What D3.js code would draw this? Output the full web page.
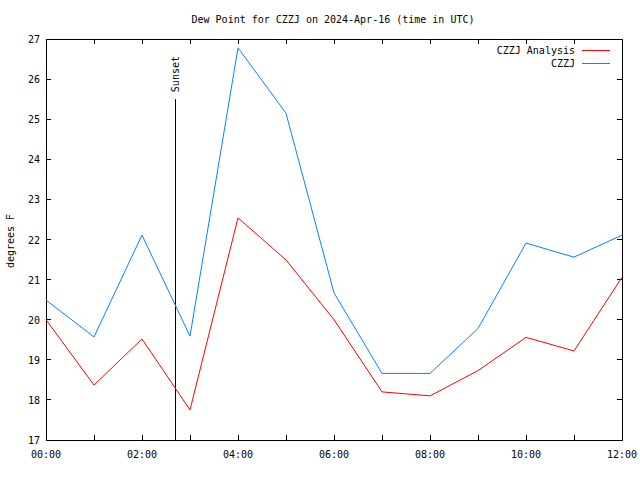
<!DOCTYPE html>
<html><head><meta charset="utf-8">
<script src="https://cdn.jsdelivr.net/npm/d3@7"></script>
<style>body{margin:0;background:#fff}svg{display:block}text{font-family:"DejaVu Sans Mono",monospace;font-size:10px;fill:#000}</style>
</head><body><svg id="c" width="640" height="480"></svg>
<script>
const hours = [0,1,2,3,4,5,6,7,8,9,10,11,12];
const analysis = [20.0,18.37,19.52,17.75,22.54,21.49,20.0,18.2,18.1,18.73,19.56,19.22,21.06];
const observed = [20.49,19.57,22.11,19.59,26.78,25.15,20.67,18.66,18.66,19.78,21.91,21.56,22.11];
const seriesNames = ["CZZJ Analysis","CZZJ"];
const seriesColors = ["#ff0000","#0a80ff"];
const yTicks = [17,18,19,20,21,22,23,24,25,26,27];
const xTickHours = [0,2,4,6,8,10,12];
const sunsetHour = 2.69, sunsetTop = 25.5;
const title = "Dew Point for CZZJ on 2024-Apr-16 (time in UTC)";

const svg = d3.select("#c");
const L=46,R=622,T=39,B=440;
const x = d3.scaleLinear().domain([0,12]).range([L,R]);
const y = d3.scaleLinear().domain([17,27]).range([B,T]);
const fmt = h => String(h).padStart(2,"0")+":00";
const tl = 5;

// ticks
const g = svg.append("g").attr("stroke","#000").attr("stroke-width",1).attr("shape-rendering","crispEdges");
hours.forEach(h=>{
  g.append("line").attr("x1",x(h)).attr("x2",x(h)).attr("y1",B).attr("y2",B-tl);
  g.append("line").attr("x1",x(h)).attr("x2",x(h)).attr("y1",T).attr("y2",T+tl);
});
yTicks.forEach(v=>{
  g.append("line").attr("x1",L).attr("x2",L+tl).attr("y1",y(v)).attr("y2",y(v));
  g.append("line").attr("x1",R).attr("x2",R-tl).attr("y1",y(v)).attr("y2",y(v));
});
g.append("rect").attr("x",L).attr("y",T).attr("width",R-L).attr("height",B-T).attr("fill","none");

yTicks.forEach(v=>svg.append("text").attr("x",L-6).attr("y",y(v)+4).attr("text-anchor","end").text(v));
xTickHours.forEach(h=>svg.append("text").attr("x",x(h)).attr("y",B+18).attr("text-anchor","middle").text(fmt(h)));

svg.append("text").attr("x",333).attr("y",23).attr("text-anchor","middle").text(title);
svg.append("text").attr("transform","translate(14,241) rotate(-90)").attr("text-anchor","middle").text("degrees F");

// sunset
svg.append("line").attr("x1",Math.round(x(sunsetHour))+0.5).attr("x2",Math.round(x(sunsetHour))+0.5)
  .attr("y1",y(17)).attr("y2",y(sunsetTop)).attr("stroke","#000");
svg.append("text").attr("transform",`translate(${x(sunsetHour)+4},${y(sunsetTop)-7}) rotate(-90)`).attr("text-anchor","start").text("Sunset");

const line = d3.line().x((d,i)=>x(hours[i])).y(d=>y(d));
[analysis,observed].forEach((s,k)=>{
  svg.append("path").attr("d",line(s)).attr("fill","none").attr("stroke",seriesColors[k]).attr("stroke-width",1);
});

// legend
seriesNames.forEach((n,k)=>{
  const ly = 50 + k*13;
  svg.append("text").attr("x",575).attr("y",ly+4).attr("text-anchor","end").text(n);
  svg.append("line").attr("x1",582).attr("x2",610).attr("y1",ly+0.5).attr("y2",ly+0.5).attr("stroke",seriesColors[k]);
});
</script></body></html>
